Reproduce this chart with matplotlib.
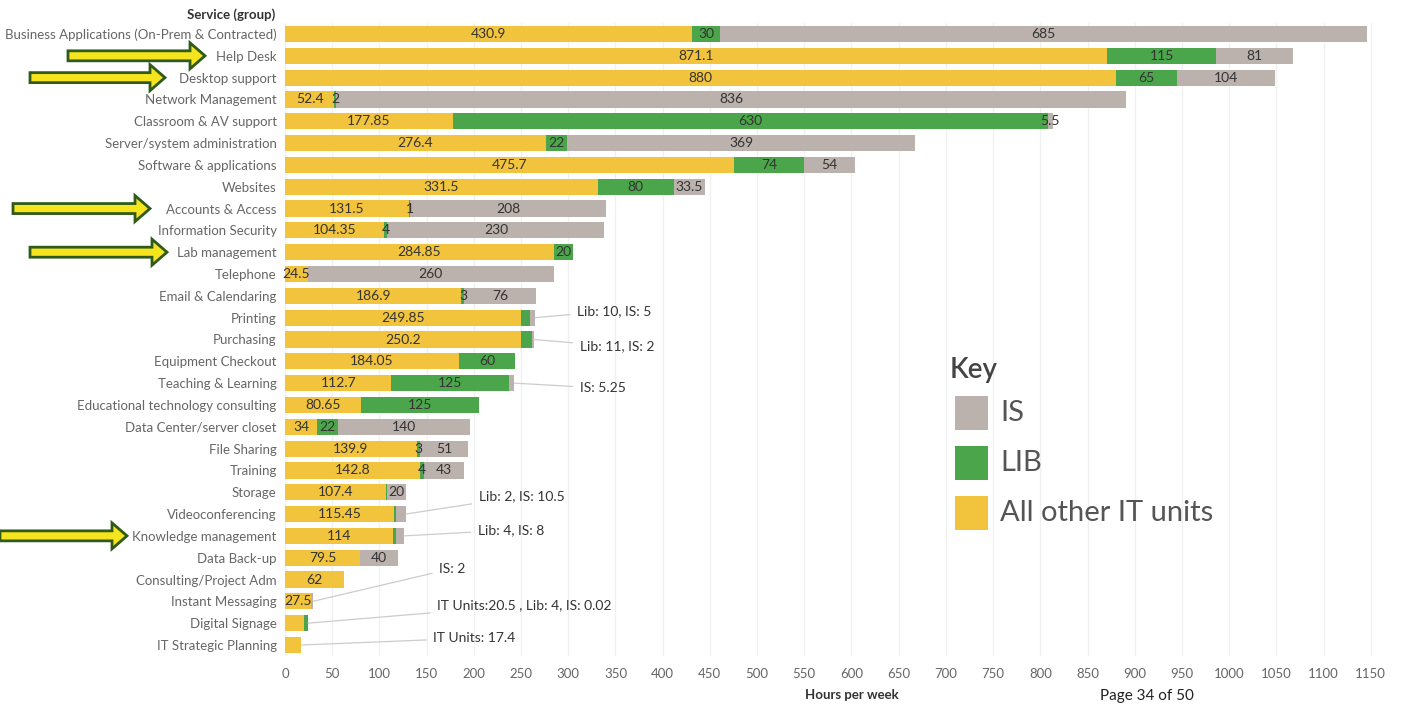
import matplotlib
matplotlib.use("Agg")
import matplotlib.pyplot as plt
from matplotlib.patches import FancyArrow, Rectangle
import numpy as np

plt.rcParams['font.family'] = ['Lato', 'DejaVu Sans']

services = [
    "Business Applications (On-Prem & Contracted)", "Help Desk", "Desktop support",
    "Network Management", "Classroom & AV support", "Server/system administration",
    "Software & applications", "Websites", "Accounts & Access", "Information Security",
    "Lab management", "Telephone", "Email & Calendaring", "Printing", "Purchasing",
    "Equipment Checkout", "Teaching & Learning", "Educational technology consulting",
    "Data Center/server closet", "File Sharing", "Training", "Storage",
    "Videoconferencing", "Knowledge management", "Data Back-up",
    "Consulting/Project Adm", "Instant Messaging", "Digital Signage", "IT Strategic Planning",
]
it_units = [430.9, 871.1, 880, 52.4, 177.85, 276.4, 475.7, 331.5, 131.5, 104.35,
            284.85, 24.5, 186.9, 249.85, 250.2, 184.05, 112.7, 80.65, 34, 139.9,
            142.8, 107.4, 115.45, 114, 79.5, 62, 27.5, 20.5, 17.4]
lib = [30, 115, 65, 2, 630, 22, 74, 80, 1, 4,
       20, 0, 3, 10, 11, 60, 125, 125, 22, 3,
       4, 1, 2, 4, 0, 0, 0, 4, 0]
is_ = [685, 81, 104, 836, 5.5, 369, 54, 33.5, 208, 230,
       0, 260, 76, 5, 2, 0, 5.25, 0, 140, 51,
       43, 20, 10.5, 8, 40, 0, 2, 0.02, 0]

# segments too small to carry a label (explained by the callouts instead)
hide_it = ["Digital Signage", "IT Strategic Planning"]
hide_lib = ["Printing", "Purchasing", "Storage", "Videoconferencing",
            "Knowledge management", "Digital Signage"]
hide_is = ["Printing", "Purchasing", "Teaching & Learning", "Videoconferencing",
           "Knowledge management", "Instant Messaging", "Digital Signage"]

callouts = [
    ("Printing", "Lib: 10, IS: 5", 309, -0.32),
    ("Purchasing", "Lib: 11, IS: 2", 312, 0.32),
    ("Teaching & Learning", "IS: 5.25", 312, 0.23),
    ("Videoconferencing", "Lib: 2, IS: 10.5", 205, -0.82),
    ("Knowledge management", "Lib: 4, IS: 8", 204, -0.27),
    ("Instant Messaging", "IS: 2", 163, -1.5),
    ("Digital Signage", "IT Units:20.5 , Lib: 4, IS: 0.02", 161, -0.83),
    ("IT Strategic Planning", "IT Units: 17.4", 157, -0.32),
]
arrow_rows = ["Help Desk", "Desktop support", "Accounts & Access",
              "Lab management", "Knowledge management"]

YELLOW = "#F2C43E"
GREEN = "#4BA54A"
GRAY = "#BBB1AD"
TXT = "#333333"
W, H = 1404, 704

fig = plt.figure(figsize=(W / 100, H / 100), dpi=100)
x0, x1 = 285, 1418
n = len(services)
top, bot = 34 - 21.82 / 2, 645 + 21.82 / 2
ax = fig.add_axes([x0 / W, 1 - bot / H, (x1 - x0) / W, (bot - top) / H])

y = np.arange(n)
it_arr, lib_arr, is_arr = np.array(it_units), np.array(lib), np.array(is_)
ax.barh(y, it_arr, height=0.74, color=YELLOW, zorder=2)
ax.barh(y, lib_arr, left=it_arr, height=0.74, color=GREEN, zorder=2)
ax.barh(y, is_arr, left=it_arr + lib_arr, height=0.74, color=GRAY, zorder=2)

for i, s in enumerate(services):
    segs = [(it_arr[i], 0, hide_it), (lib_arr[i], it_arr[i], hide_lib),
            (is_arr[i], it_arr[i] + lib_arr[i], hide_is)]
    for val, left, hide in segs:
        if val <= 0 or s in hide:
            continue
        ax.text(left + val / 2, i, f"{val:g}", ha="center", va="center",
                fontsize=10, color=TXT, zorder=3)

for s, label, tx, dy in callouts:
    i = services.index(s)
    end = it_arr[i] + lib_arr[i] + is_arr[i]
    ax.annotate(label, xy=(end, i), xytext=(tx, i + dy), va="center", ha="left",
                fontsize=10, color=TXT,
                arrowprops=dict(arrowstyle="-", color="#cccccc", lw=0.9,
                                shrinkA=3, shrinkB=0))

ax.set_xlim(0, 1200)
ax.set_ylim(n - 0.5, -0.5)
ax.set_xticks(np.arange(0, 1151, 50))
ax.set_yticks(y)
ax.set_yticklabels(services)
ax.tick_params(axis="both", length=0, labelsize=9.5, colors="#666666")
ax.tick_params(axis="y", pad=6)
ax.tick_params(axis="x", pad=9)
ax.grid(axis="x", color="#f0f0f0", lw=1, zorder=0)
for sp in ax.spines.values():
    sp.set_visible(False)
ax.set_xlabel("Hours per week", fontsize=9.5, color=TXT, fontweight="bold", labelpad=6)

fig.text(275 / W, 1 - 15 / H, "Service (group)", ha="right", va="center",
         fontsize=9.5, fontweight="bold", color=TXT)

# highlight arrows (pixel positions, converted to inches)
arrow_px = {"Help Desk": (68, 205), "Desktop support": (30, 165),
            "Accounts & Access": (13, 150), "Lab management": (30, 167),
            "Knowledge management": (0, 127)}
for s in arrow_rows:
    i = services.index(s)
    ypx = 34 + i * 21.82
    xa, xb = arrow_px[s]
    fig.patches.append(FancyArrow(xa / 100, (H - ypx) / 100, (xb - xa) / 100, 0,
                                  width=0.10, head_width=0.26, head_length=0.15,
                                  length_includes_head=True, facecolor="#F5E41E",
                                  edgecolor="#2F5A18", lw=2,
                                  transform=fig.dpi_scale_trans))

# key
fig.text(950 / W, 1 - 370 / H, "Key", ha="left", va="center", fontsize=20,
         color="#444444", fontweight="semibold")
for k, (lab, col) in enumerate([("IS", GRAY), ("LIB", GREEN), ("All other IT units", YELLOW)]):
    yc = 413 + k * 50
    fig.patches.append(Rectangle((955 / W, 1 - (yc + 17) / H), 33 / W, 34 / H,
                                 facecolor=col, edgecolor="none",
                                 transform=fig.transFigure))
    fig.text(1000 / W, 1 - yc / H, lab, ha="left", va="center", fontsize=21,
             color="#555555")

fig.text(1100 / W, 1 - 703 / H, "Page 34 of 50", ha="left", va="bottom",
         fontsize=11, color="#222222")

fig.savefig("out.png", dpi=100)
